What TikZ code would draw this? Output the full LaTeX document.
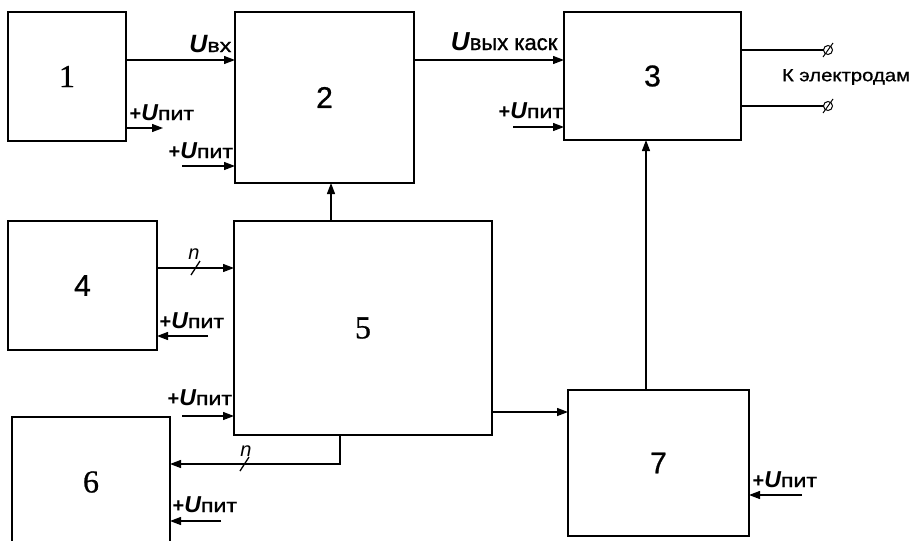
\documentclass[tikz,border=0pt]{standalone}
\usepackage{fontspec}
\setmainfont{Liberation Sans}
\newfontfamily\serifnum[FakeBold=0.8]{Liberation Serif}
\newfontfamily\widesans[FakeStretch=1.22,FakeBold=1.4]{Liberation Sans}
\newfontfamily\idxsans[FakeBold=1.2]{Liberation Sans}
\newfontfamily\midsans[FakeStretch=1.16,FakeBold=0.9]{Liberation Sans}
\newfontfamily\numsans[FakeBold=0.8]{Liberation Sans}
\usetikzlibrary{arrows.meta,calc}

% signal labels: bold italic U with an upright Cyrillic index
\newcommand{\Ubig}[1]{{\fontsize{#1}{#1}\selectfont\bfseries\itshape U}}
\newcommand{\pit}{{\fontsize{20}{20}\selectfont\bfseries+}\Ubig{23}{\fontsize{19}{19}\selectfont\widesans пит}}
\newcommand{\numS}[1]{{\fontsize{30}{30}\selectfont\numsans #1}}
\newcommand{\numR}[1]{{\fontsize{32}{32}\selectfont\serifnum #1}}

\begin{document}
\begin{tikzpicture}[x=1pt,y=-1pt,line width=1.3pt,
  blk/.style={draw,rectangle,inner sep=0pt,outer sep=0pt},
  arr/.style={-{Triangle[length=11pt,width=8pt]}},
  lblL/.style={anchor=base west,inner sep=0pt},
  lblR/.style={anchor=base east,inner sep=0pt},
  term/.style={draw,circle,minimum size=9pt,inner sep=0pt,outer sep=0pt,line width=1pt},
  busn/.style={inner sep=0pt,font=\fontsize{20}{20}\selectfont\itshape}]
\useasboundingbox (0,0) rectangle (919,541);

% blocks
\node[blk,minimum width=118pt,minimum height=129pt] (b1) at (67,76.5) {\numR{1}};
\node[blk,minimum width=179pt,minimum height=171pt] (b2) at (324.5,97.5) {\numS{2}};
\node[blk,minimum width=177pt,minimum height=128pt] (b3) at (652.5,76) {\numS{3}};
\node[blk,minimum width=149pt,minimum height=129pt] (b4) at (82.5,285.5) {\numS{4}};
\node[blk,minimum width=258pt,minimum height=214pt] (b5) at (363,328) {\numR{5}};
\begin{scope}
  \clip (0,0) rectangle (919,541);
  \node[blk,minimum width=158pt,minimum height=130pt] (b6) at (91,482) {\numR{6}};
\end{scope}
\node[blk,minimum width=181pt,minimum height=146pt] (b7) at (658.5,463) {\numS{7}};

% signal paths
\draw[arr] (b1.east |- 0,60) -- (b2.west |- 0,60);
\node[lblR] at (232,52) {\Ubig{25}{\fontsize{19}{19}\selectfont\widesans вх}};
\draw[arr] (b2.east |- 0,60) -- (b3.west |- 0,60);
\node[lblR] at (558,50) {\Ubig{26}{\fontsize{22}{22}\selectfont\idxsans вых каск}};
\draw[arr] (b5.north -| 331,0) -- (b2.south -| 331,0);
\draw[arr] (b7.north -| 646,0) -- (b3.south -| 646,0);
\draw[arr] (b4.east |- 0,268) -- (b5.west |- 0,268);
\draw (191,275) -- (200,261);
\node[busn] at (194,254) {n};
\draw[arr] (b5.south -| 340,0) -- (340,464) -- (b6.east |- 0,464);
\draw (240,471) -- (249,457);
\node[busn] at (246,451) {n};
\draw[arr] (b5.east |- 0,412) -- (b7.west |- 0,412);

% supply inputs
\draw[arr] (b1.east |- 0,128) -- ++(37,0);
\node[lblL] at (129,120) {\pit};
\draw[arr] (182,166) -- (b2.west |- 0,166);
\node[lblL] at (168,158) {\pit};
\draw[arr] (513,127) -- (b3.west |- 0,127);
\node[lblL] at (498,118) {\pit};
\draw[arr] (208,336) -- (b4.east |- 0,336);
\node[lblL] at (159,328) {\pit};
\draw[arr] (182,416) -- (b5.west |- 0,416);
\node[lblL] at (167,405) {\pit};
\draw[arr] (221,521) -- (b6.east |- 0,521);
\node[lblL] at (172,512) {\pit};
\draw[arr] (802,495) -- (b7.east |- 0,495);
\node[lblL] at (752,487) {\pit};

% electrode terminals
\node[term] (t1) at (828,50) {};
\node[term] (t2) at (828,106) {};
\draw (b3.east |- t1) -- (t1.west);
\draw (b3.east |- t2) -- (t2.west);
\draw[line width=1pt] ($(t1)+(-5,7)$) -- ($(t1)+(5,-7)$);
\draw[line width=1pt] ($(t2)+(-5,7)$) -- ($(t2)+(5,-7)$);
\node[inner sep=0pt,font=\fontsize{17.5}{17.5}\selectfont\midsans] (el) at (846,77) {К электродам};
\end{tikzpicture}
\end{document}
